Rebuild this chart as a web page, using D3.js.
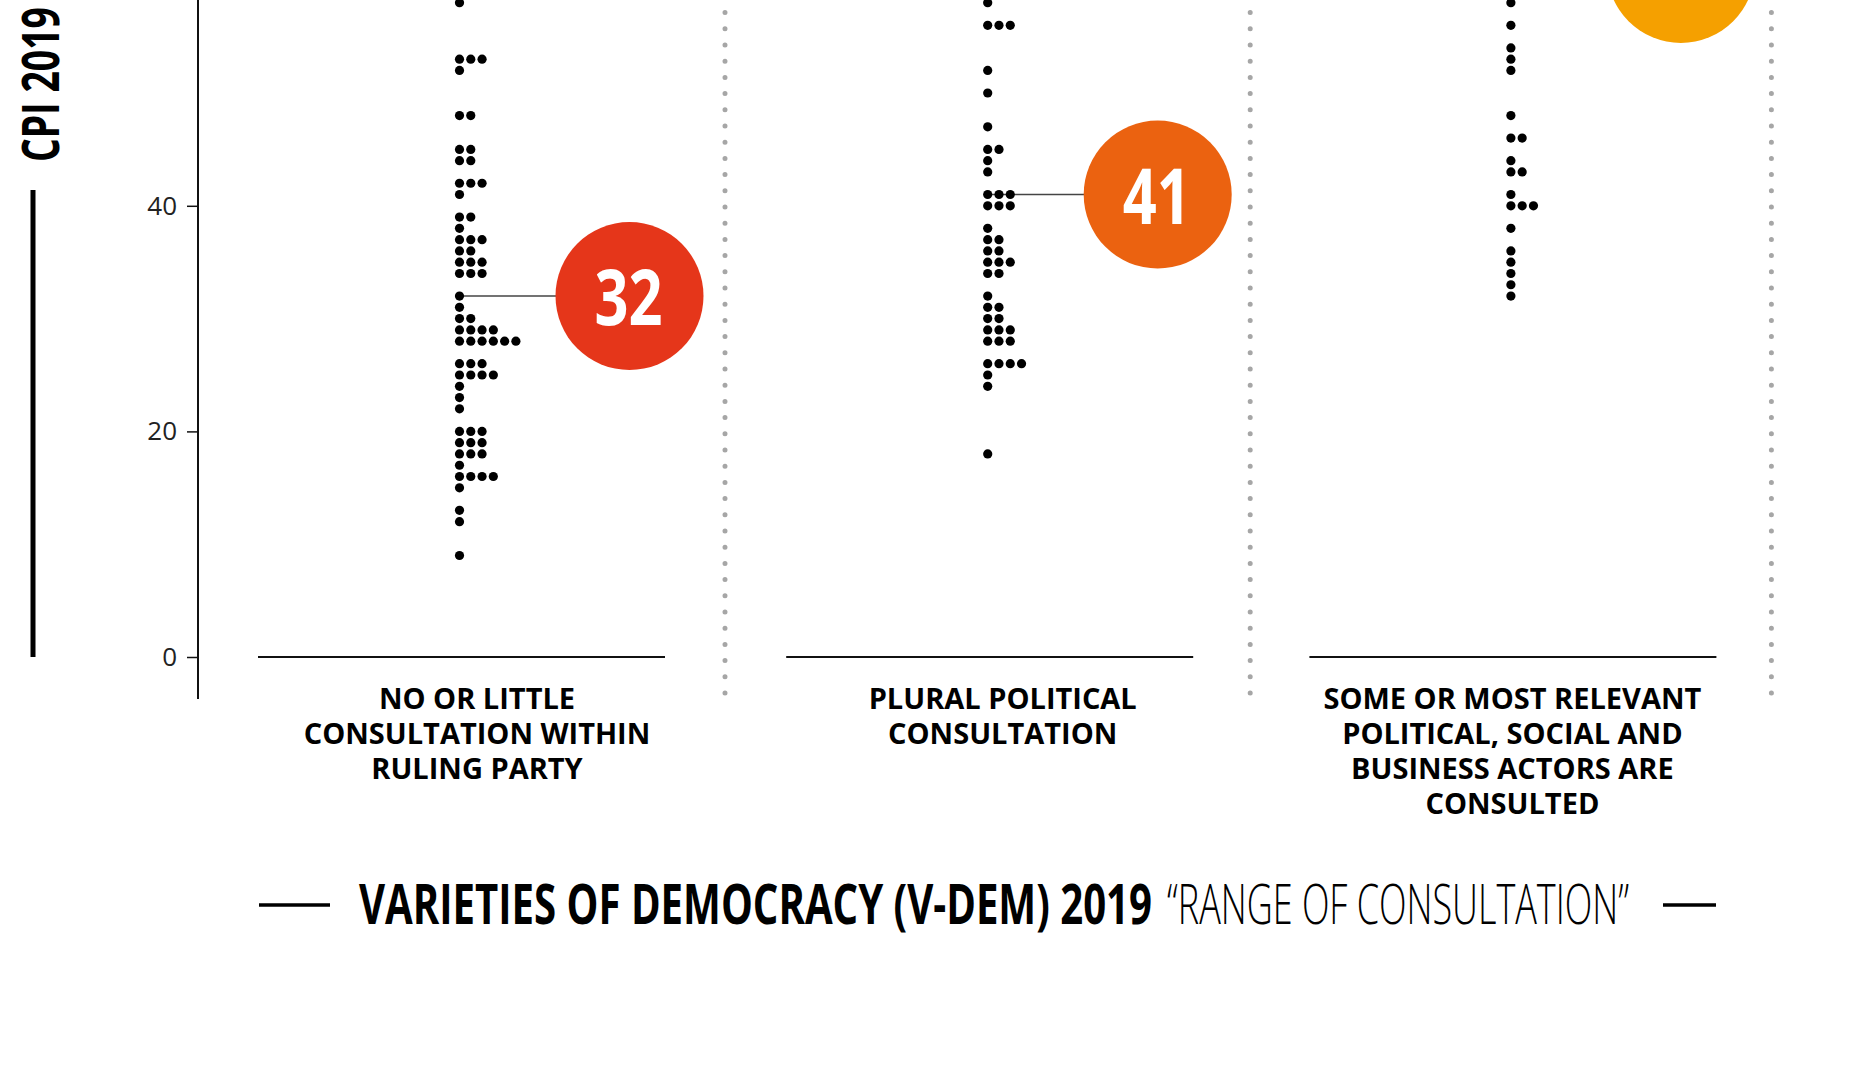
<!DOCTYPE html>
<html><head><meta charset="utf-8">
<script src="https://cdn.jsdelivr.net/npm/d3@7"></script>
<style>
html,body{margin:0;padding:0;background:#fff;}
svg{display:block;}
</style></head><body>
<svg id="chart" width="1858" height="1088"></svg>
<script>
// ---------- data ----------
const categories = [
  "NO OR LITTLE CONSULTATION WITHIN RULING PARTY",
  "PLURAL POLITICAL CONSULTATION",
  "SOME OR MOST RELEVANT POLITICAL, SOCIAL AND BUSINESS ACTORS ARE CONSULTED"
];
const categoryLabelLines = [
  ["NO OR LITTLE", "CONSULTATION WITHIN", "RULING PARTY"],
  ["PLURAL POLITICAL", "CONSULTATION"],
  ["SOME OR MOST RELEVANT", "POLITICAL, SOCIAL AND", "BUSINESS ACTORS ARE", "CONSULTED"]
];
const cpiNoLittle = [58, 53,53,53, 52, 48,48, 45,45, 44,44, 42,42,42, 41, 39,39, 38, 37,37,37, 36,36,
  35,35,35, 34,34,34, 32, 31, 30,30, 29,29,29,29, 28,28,28,28,28,28, 26,26,26, 25,25,25,25, 24, 23, 22,
  20,20,20, 19,19,19, 18,18,18, 17, 16,16,16,16, 15, 13, 12, 9];
const cpiPlural = [58, 56,56,56, 52, 50, 47, 45,45, 44, 43, 41,41,41, 40,40,40, 38, 37,37, 36,36,
  35,35,35, 34,34, 32, 31,31, 30,30, 29,29,29, 28,28,28, 26,26,26,26, 25, 24, 18];
const cpiRelevant = [58, 56, 54, 53, 52, 48, 46,46, 44, 43,43, 41, 40,40,40, 38, 36, 35, 34, 33, 32];
const seriesValues = [cpiNoLittle, cpiPlural, cpiRelevant];
const medians = [32, 41, 61];
const medianColors = ["#e5361a", "#eb6210", "#f5a000"];
const yTickValues = [0, 20, 40, 60];
const yAxisTitle = "CPI 2019";
const xTitleBold = "VARIETIES OF DEMOCRACY (V-DEM) 2019";
const xTitleLight = "\u201CRANGE OF CONSULTATION\u201D";

// ---------- layout ----------
const svg = d3.select("#chart");
const colStep = 525.7, colStart = 258, baseWidth = 407;
const x = d3.scaleBand().domain(categories).range([colStart, colStart + 3 * colStep]).paddingInner(0).paddingOuter(0);
const y = d3.scaleLinear().domain([0, 60]).range([657, 657 - 60 * 11.28]);
const unit = Math.abs(y(1) - y(0));
const colNudge = [0, 2.5, 0];
const dotOffset = 201.5, circleOffset = 371.5, sepOffsets = [467, 466.5, 462], labelOffsets = [219, 219, 203];
const dotR = 4.6, bubbleR = 74;
const cx = (d, i) => x(d) + colNudge[i];

// separators
svg.append("g").selectAll("line").data(categories).join("line")
  .attr("x1", (d, i) => x(d) + sepOffsets[i]).attr("x2", (d, i) => x(d) + sepOffsets[i])
  .attr("y1", 693).attr("y2", -10)
  .attr("stroke", "#a6a6a6").attr("stroke-width", 5)
  .attr("stroke-linecap", "round").attr("stroke-dasharray", "0 16.2");

// baselines
svg.append("g").selectAll("line").data(categories).join("line")
  .attr("x1", (d, i) => cx(d, i)).attr("x2", (d, i) => cx(d, i) + baseWidth)
  .attr("y1", y(0)).attr("y2", y(0))
  .attr("stroke", "#111").attr("stroke-width", 2);

// median connectors
svg.append("g").selectAll("line").data(categories).join("line")
  .attr("x1", (d, i) => cx(d, i) + dotOffset).attr("x2", (d, i) => cx(d, i) + circleOffset)
  .attr("y1", (d, i) => y(medians[i])).attr("y2", (d, i) => y(medians[i]))
  .attr("stroke", "#444").attr("stroke-width", 1.6);

// dots
categories.forEach((cat, ci) => {
  const counts = {};
  const pts = seriesValues[ci].map(v => {
    counts[v] = (counts[v] || 0);
    const k = counts[v]++;
    return { v, k };
  });
  svg.append("g").selectAll("circle").data(pts).join("circle")
    .attr("cx", d => cx(cat, ci) + dotOffset + d.k * unit)
    .attr("cy", d => y(d.v))
    .attr("r", dotR).attr("fill", "#000");
});

// median bubbles
const bub = svg.append("g").selectAll("g").data(categories).join("g")
  .attr("transform", (d, i) => `translate(${cx(d, i) + circleOffset},${y(medians[i])})`);
bub.append("circle").attr("r", bubbleR).attr("fill", (d, i) => medianColors[i]);
bub.append("text").text((d, i) => medians[i])
  .attr("text-anchor", "middle").attr("x", -1).attr("y", 29)
  .attr("font-family", "'Open Sans', sans-serif").attr("font-weight", 700)
  .attr("font-size", 77).attr("fill", "#fff")
  .attr("textLength", 68).attr("lengthAdjust", "spacingAndGlyphs");

// y axis
const yAxis = d3.axisLeft(y).tickValues(yTickValues).tickSize(11).tickPadding(10);
const ga = svg.append("g").attr("transform", "translate(198,0)").call(yAxis);
ga.select(".domain").remove();
ga.selectAll(".tick line").attr("stroke", "#111").attr("stroke-width", 1.5);
ga.selectAll(".tick text").attr("font-family", "'Open Sans', sans-serif")
  .attr("font-size", 26).attr("fill", "#222");
ga.append("line").attr("x1", 0).attr("x2", 0).attr("y1", -20).attr("y2", 699)
  .attr("stroke", "#111").attr("stroke-width", 2);

// y axis title
svg.append("text").text(yAxisTitle)
  .attr("transform", "translate(59,162) rotate(-90)")
  .attr("font-family", "'Open Sans', sans-serif").attr("font-weight", 700)
  .attr("font-size", 52).attr("fill", "#000")
  .attr("textLength", 155).attr("lengthAdjust", "spacingAndGlyphs");
svg.append("line").attr("x1", 33).attr("x2", 33).attr("y1", 190).attr("y2", 657)
  .attr("stroke", "#000").attr("stroke-width", 5);

// category labels
const lab = svg.append("g").selectAll("text").data(categories).join("text")
  .attr("text-anchor", "middle")
  .attr("font-family", "'Open Sans', sans-serif").attr("font-weight", 700)
  .attr("font-size", 29).attr("fill", "#000");
lab.each(function(d, i) {
  d3.select(this).selectAll("tspan").data(categoryLabelLines[i]).join("tspan")
    .attr("x", x(d) + labelOffsets[i]).attr("y", (t, j) => 709 + j * 35).text(t => t);
});

// x axis title
svg.append("line").attr("x1", 259).attr("x2", 330).attr("y1", 905).attr("y2", 905)
  .attr("stroke", "#000").attr("stroke-width", 3.5);
svg.append("line").attr("x1", 1663).attr("x2", 1716).attr("y1", 905).attr("y2", 905)
  .attr("stroke", "#000").attr("stroke-width", 3.5);
svg.append("text").text(xTitleBold).attr("x", 359).attr("y", 924)
  .attr("font-family", "'Open Sans', sans-serif").attr("font-weight", 700)
  .attr("font-size", 56).attr("fill", "#000")
  .attr("textLength", 793).attr("lengthAdjust", "spacingAndGlyphs");
svg.append("text").text(xTitleLight).attr("x", 1167).attr("y", 924)
  .attr("font-family", "'Open Sans', sans-serif").attr("font-weight", 300)
  .attr("font-size", 56).attr("fill", "#000")
  .attr("textLength", 462).attr("lengthAdjust", "spacingAndGlyphs");
</script>
</body></html>
